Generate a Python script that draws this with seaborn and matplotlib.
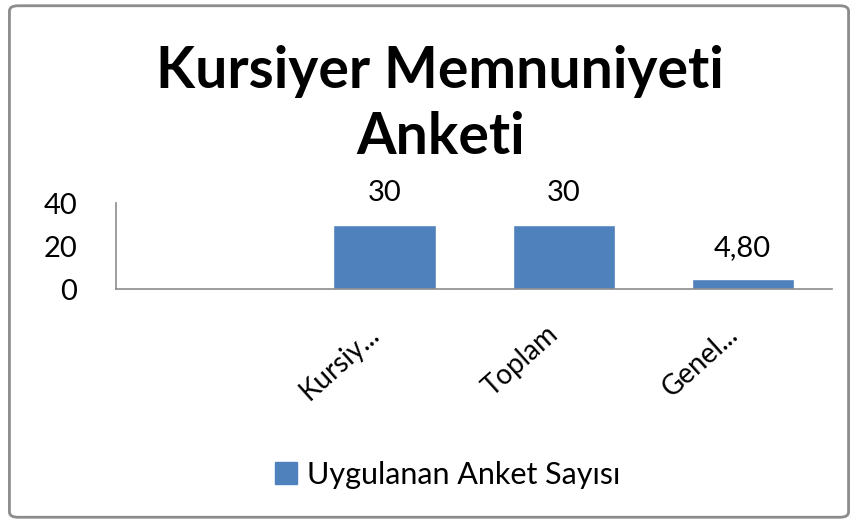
import numpy as np
import pandas as pd
import seaborn as sns
import matplotlib.pyplot as plt
from matplotlib.patches import FancyBboxPatch, Patch

# dados do gráfico
kategoriler = ["", "Kursiy...", "Toplam", "Genel..."]
degerler = [np.nan, 30, 30, 4.80]
seri_adi = "Uygulanan Anket Sayısı"
baslik = "Kursiyer Memnuniyeti\nAnketi"
y_ticks = [0, 20, 40]

df = pd.DataFrame({"kategori": kategoriler, "deger": degerler, "seri": seri_adi})

sns.set_style("white")
plt.rcParams["font.family"] = ["Lato", "DejaVu Sans"]
plt.rcParams["text.color"] = "black"

fig = plt.figure(figsize=(8.58, 5.23), dpi=100)
ax = fig.add_axes([0.135, 0.4474, 0.835, 0.1644])

sns.barplot(data=df, x="kategori", y="deger", hue="seri", order=kategoriler,
            palette=["#4F81BD"], saturation=1, width=0.57, errorbar=None,
            ax=ax, legend=False)

def etiket(v):
    if np.isnan(v):
        return ""
    if float(v).is_integer():
        return f"{v:.0f}"
    return f"{v:.2f}".replace(".", ",")

for cont in ax.containers:
    ax.bar_label(cont, fmt=etiket, padding=13, fontsize=21, color="black")

ax.set_ylim(0, 40)
ax.set_yticks(y_ticks)
ax.set_yticklabels([str(t) for t in y_ticks], fontsize=21, color="black")
ax.set_xticks(range(len(kategoriler)))
ax.set_xticklabels(kategoriler, fontsize=20, rotation=42, ha="right",
                   va="bottom", rotation_mode="anchor", color="black")
ax.tick_params(axis="both", length=0)
ax.tick_params(axis="y", pad=28)
ax.tick_params(axis="x", pad=37)
ax.set_xlabel("")
ax.set_ylabel("")

for s in ["top", "right"]:
    ax.spines[s].set_visible(False)
for s in ["left", "bottom"]:
    ax.spines[s].set_color("#8C8C8C")
    ax.spines[s].set_linewidth(1.2)

# başlık
fig.text(0.513, 0.80, baslik, ha="center", va="center", fontsize=41,
         fontweight="bold", linespacing=1.3)

# lejant
fig.legend(handles=[Patch(color="#4F81BD", label=seri_adi)], loc="center",
           bbox_to_anchor=(0.522, 0.092), frameon=False, fontsize=22,
           handlelength=0.7, handleheight=0.7, handletextpad=0.35)

# dış çerçeve
fig.patches.append(FancyBboxPatch((0.011, 0.011), 0.978, 0.978,
                                  boxstyle="round,pad=0,rounding_size=0.01",
                                  transform=fig.transFigure, fill=False,
                                  edgecolor="#8C8C8C", linewidth=2))

plt.savefig("out.png", dpi=100)
